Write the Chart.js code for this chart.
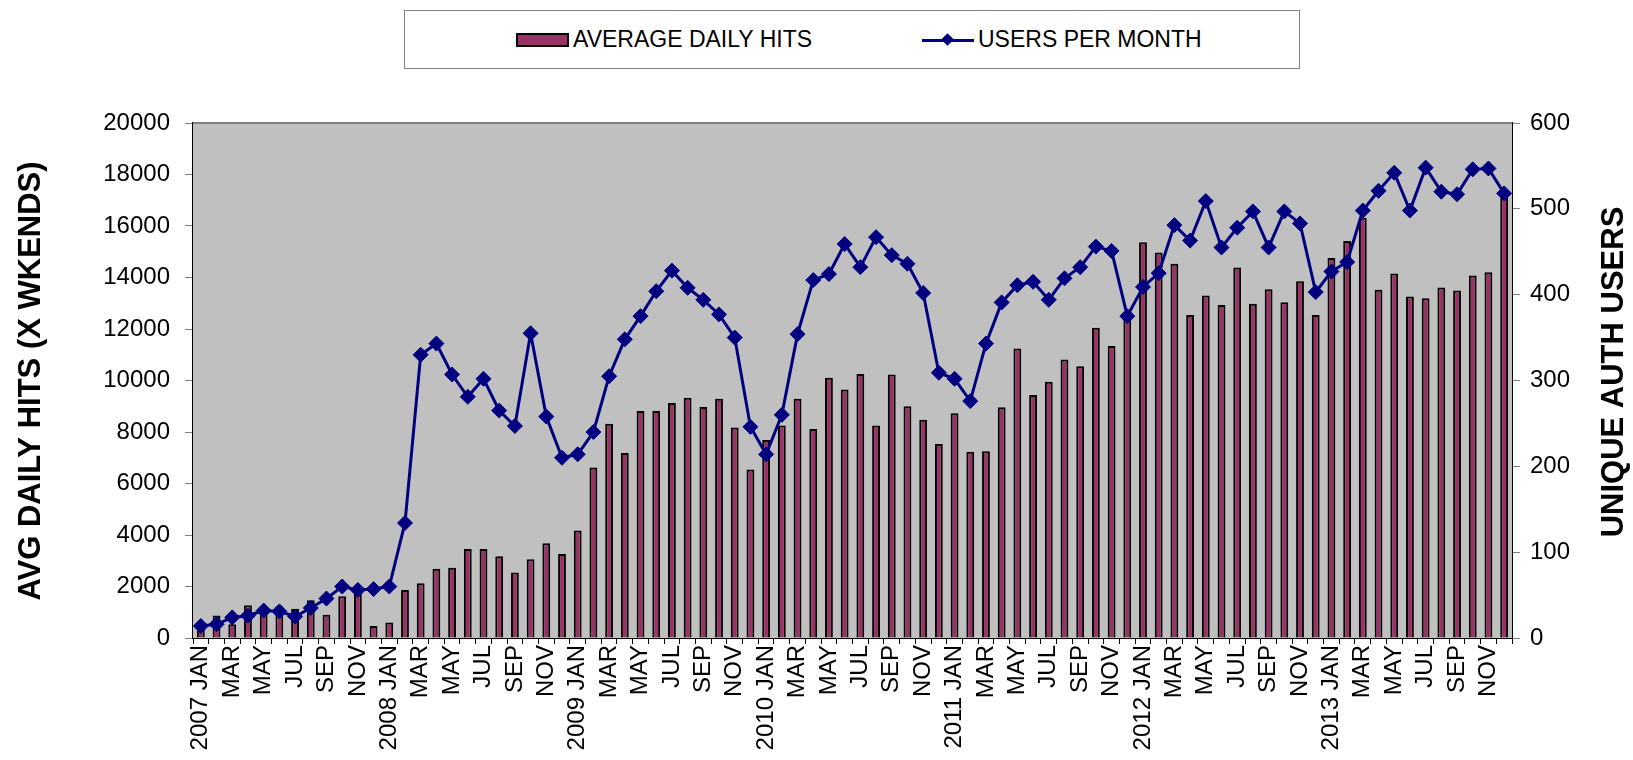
<!DOCTYPE html>
<html>
<head>
<meta charset="utf-8">
<script src="https://cdn.jsdelivr.net/npm/chart.js@4.4.1/dist/chart.umd.min.js"></script>
<style>
  body { margin: 0; background: #fff; }
  #wrap { position: relative; width: 1633px; height: 760px; }
  #legend {
    position: absolute; left: 404px; top: 10px; width: 894px; height: 57px;
    border: 1px solid #808080; background: #fff;
    font-family: "Liberation Sans", Arial, sans-serif;
    font-size: 23px; color: #000;
  }
  .item { position: absolute; top: 0; height: 57px; display: flex; align-items: center; }
  .barSwatch { width: 49px; height: 10px; background: #993366; border: 2px solid #000; margin-right: 4px; }
  .lineSwatch { position: relative; width: 52px; height: 14px; margin-right: 4px; }
  .lineSwatch:before { content: ""; position: absolute; left: 0; right: 0; top: 6px; height: 3px; background: #000080; }
  .lineSwatch:after { content: ""; position: absolute; left: 21px; top: 2px; width: 9px; height: 9px; background: #000080; transform: rotate(45deg); }
</style>
</head>
<body>
<div id="wrap">
  <canvas id="chart" width="1633" height="760"></canvas>
  <div id="legend">
    <div class="item" style="left:111px"><span class="barSwatch"></span>AVERAGE DAILY HITS</div>
    <div class="item" style="left:517px"><span class="lineSwatch"></span>USERS PER MONTH</div>
  </div>
</div>
<script>
const years = [2007, 2008, 2009, 2010, 2011, 2012, 2013];
const monthNames = ["JAN", "FEB", "MAR", "APR", "MAY", "JUN", "JUL", "AUG", "SEP", "OCT", "NOV", "DEC"];
const categories = years.flatMap(y => monthNames.map((m, i) => i === 0 ? y + " " + m : m));

// average daily hits (left axis)
const dailyHits = [
  500, 870, 535, 1270, 1050, 1230, 1140, 1470, 900, 1620, 1800, 470,
  600, 1860, 2125, 2690, 2730, 3460, 3460, 3170, 2540, 3060, 3680, 3260,
  4170, 6620, 8320, 7180, 8820, 8820, 9130, 9330, 8970, 9290, 8170, 6540,
  7690, 8250, 9290, 8115, 10110, 9650, 10250, 8250, 10230, 9000, 8480, 7530,
  8730, 7230, 7250, 8960, 11240, 9440, 9950, 10820, 10550, 12050, 11340, 12500,
  15370, 14970, 14530, 12540, 13300, 12930, 14385, 12980, 13540, 13035, 13850, 12540,
  14760, 15415, 16320, 13520, 14160, 13260, 13195, 13610, 13500, 14080, 14200, 17200
];

// unique authenticated users per month (right axis)
const usersPerMonth = [
  14, 16, 24, 26, 32, 31, 25, 35, 46, 60, 56, 57,
  60, 134, 330, 343, 307, 281, 302, 265, 247, 355, 258, 210,
  214, 240, 305, 348, 375, 404, 428, 408, 394, 377, 350, 246,
  214, 260, 354, 417, 424, 459, 432, 467, 446, 436, 402, 309,
  302, 276, 343, 391, 411, 415, 394, 419, 432, 456, 451, 375,
  409, 425, 481, 463, 509, 455, 478, 497, 455, 497, 483, 403,
  427, 438, 498, 521, 542, 498, 548, 520, 517, 546, 547, 518
];

const hitsTicks = [0, 2000, 4000, 6000, 8000, 10000, 12000, 14000, 16000, 18000, 20000];
const userTicks = [0, 100, 200, 300, 400, 500, 600];

const FONT = "'Liberation Sans', Arial, sans-serif";

// gray plot area, top border and the two rotated axis titles
const frame = {
  id: "frame",
  beforeDatasetsDraw(chart) {
    const { ctx, chartArea: a } = chart;
    ctx.save();
    ctx.fillStyle = "#c0c0c0";
    ctx.fillRect(a.left, a.top, a.right - a.left, a.bottom - a.top);
    ctx.strokeStyle = "#808080";
    ctx.lineWidth = 2;
    ctx.beginPath();
    ctx.moveTo(a.left, a.top);
    ctx.lineTo(a.right, a.top);
    ctx.stroke();
    ctx.restore();
  },
  afterDraw(chart) {
    const { ctx } = chart;
    const drawTitle = (text, x, y) => {
      ctx.save();
      ctx.fillStyle = "#000";
      ctx.font = "bold 31px " + FONT;
      ctx.textAlign = "center";
      ctx.textBaseline = "middle";
      ctx.translate(x, y);
      ctx.rotate(-Math.PI / 2);
      ctx.fillText(text, 0, 0);
      ctx.restore();
    };
    drawTitle("AVG DAILY HITS (X WKENDS)", 31, 381);
    drawTitle("UNIQUE AUTH USERS", 1614, 372);
  }
};

new Chart(document.getElementById("chart"), {
  data: {
    labels: categories,
    datasets: [
      {
        type: "line",
        label: "USERS PER MONTH",
        data: usersPerMonth,
        yAxisID: "yUsers",
        borderColor: "#000080",
        backgroundColor: "#000080",
        borderWidth: 3,
        pointStyle: "rectRot",
        pointRadius: 7.5,
        pointBorderWidth: 1,
        tension: 0,
        order: 1
      },
      {
        type: "bar",
        label: "AVERAGE DAILY HITS",
        data: dailyHits,
        yAxisID: "yHits",
        backgroundColor: "#993366",
        borderColor: "#000000",
        borderWidth: 2,
        barPercentage: 0.5,
        categoryPercentage: 1,
        order: 2
      }
    ]
  },
  options: {
    responsive: false,
    animation: false,
    layout: { padding: { top: 123, left: 0, right: 0, bottom: 0 } },
    plugins: { legend: { display: false }, tooltip: { enabled: false } },
    scales: {
      x: {
        offset: true,
        afterFit(scale) { scale.height = 122; },
        grid: { offset: true, drawOnChartArea: false, drawTicks: true, tickLength: 6, color: "#000", lineWidth: 1 },
        border: { color: "#000", width: 2 },
        ticks: {
          autoSkip: false,
          minRotation: 90,
          maxRotation: 90,
          padding: 1,
          color: "#000",
          font: { family: FONT, size: 24 },
          callback(value, index) { return index % 2 === 0 ? categories[index] : ""; }
        }
      },
      yHits: {
        position: "left",
        min: 0,
        max: 20000,
        afterFit(scale) { scale.width = 193; },
        afterBuildTicks(scale) { scale.ticks = hitsTicks.map(v => ({ value: v })); },
        grid: { drawOnChartArea: false, tickLength: 8, color: "#808080" },
        border: { color: "#000", width: 2 },
        ticks: { padding: 15, color: "#000", font: { family: FONT, size: 24 }, callback: v => String(v) }
      },
      yUsers: {
        position: "right",
        min: 0,
        max: 600,
        afterFit(scale) { scale.width = 121; },
        afterBuildTicks(scale) { scale.ticks = userTicks.map(v => ({ value: v })); },
        grid: { drawOnChartArea: false, tickLength: 8, color: "#808080" },
        border: { color: "#000", width: 2 },
        ticks: { padding: 10, color: "#000", font: { family: FONT, size: 24 }, callback: v => String(v) }
      }
    }
  },
  plugins: [frame]
});
</script>
</body>
</html>
